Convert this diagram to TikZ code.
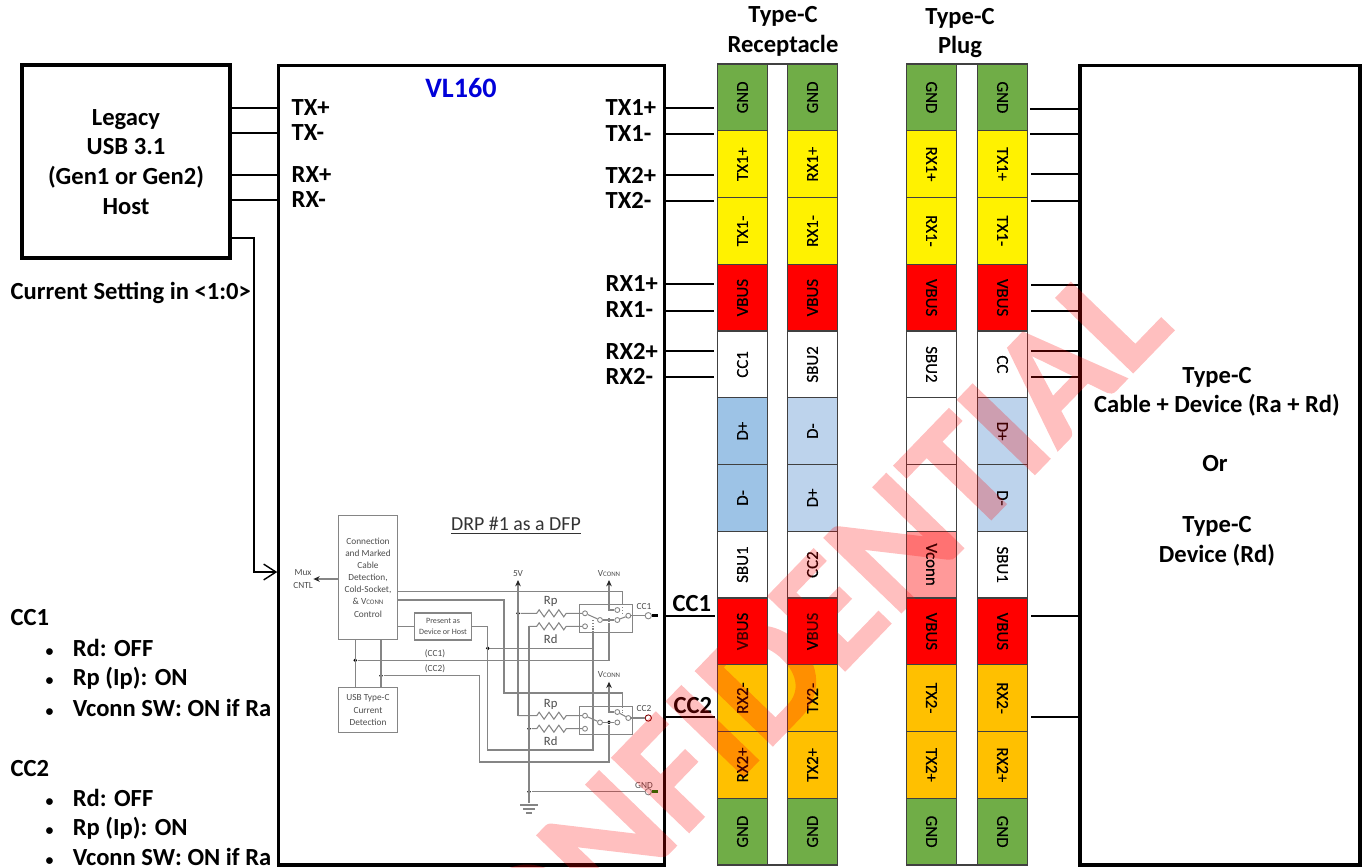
\documentclass[tikz,border=0pt]{standalone}
\usepackage{xcolor}
\usepackage{fontspec}
\setmainfont{Carlito}
\newfontfamily\stampfont[FakeBold=1]{Carlito Bold}
\newfontfamily\pinfont[FakeBold=0.5]{Carlito}
\usepackage{tikz}
\usetikzlibrary{positioning,arrows.meta}
\usetikzlibrary{decorations.pathmorphing}
\definecolor{gndgreen}{HTML}{70AD47}
\definecolor{pinorange}{HTML}{FFC000}
\definecolor{dblue}{HTML}{9DC3E6}
\definecolor{dlight}{HTML}{BDD3EC}
\definecolor{vconnpink}{HTML}{FF9999}
\definecolor{wiregray}{HTML}{858585}
\newcommand{\vconnlbl}{V{\fontsize{3.9}{4}\selectfont CONN}}
\newcommand{\bulletlbl}{{\fontsize{9}{9}\selectfont •}\hspace{11pt}}
\tikzset{
  every picture/.style={line width=0.75pt},
  bigbox/.style={draw,line width=1.8pt,minimum width=0},
  stub/.style={line width=1.1pt},
  lbl/.style={font=\fontsize{14}{17}\selectfont\bfseries,inner sep=0pt,align=center},
  lblleft/.style={lbl,anchor=west},
  cell/.style={draw=black!75,line width=0.7pt,minimum width=1.335cm,minimum height=0.99cm,inner sep=0pt,font=\pinfont\fontsize{9.6}{10}\selectfont},
  cellup/.style={cell,rotate=90},
  celldown/.style={cell,rotate=-90},
  wire/.style={draw=wiregray,line width=0.6pt},
  wirebox/.style={wire,text=black!70,align=center,inner sep=0pt,font=\fontsize{5.3}{6.9}\selectfont},
  tiny/.style={text=black!70,inner sep=0pt,align=center,font=\fontsize{5.3}{6.9}\selectfont},
  rlbl/.style={text=black!70,inner sep=0pt,font=\fontsize{7.2}{8}\selectfont},
  jdot/.style={circle,fill=black,inner sep=0pt,minimum size=2.2pt},
  term/.style={circle,draw=wiregray,fill=white,line width=0.5pt,inner sep=0pt,minimum size=2.8pt},
  tip/.style={-{Stealth[length=3.6pt,width=3.2pt,color=black!85]}},
  zz/.style={decoration={zigzag,amplitude=2pt,segment length=5.6pt}}
}
\begin{document}
\begin{tikzpicture}[x=0.02cm,y=-0.02cm]
\useasboundingbox (0,0) rectangle (1362,867);
% hosts and device
\node[bigbox,minimum width=4.16cm,minimum height=3.86cm] (legacy) at (126,161.5) {};
\node[bigbox,minimum width=7.72cm,minimum height=16cm] (chip) at (471.8,465) {};
\node[bigbox,minimum width=5.6cm,minimum height=16cm] (device) at (1220,465) {};
\node[lbl] (legacytxt) at (126,162) {Legacy\\[0pt]USB 3.1\\(Gen1 or Gen2)\\Host};
\node[lbl,text=blue!85!black,font=\fontsize{16}{18}\selectfont\bfseries] (chipname) at (461,88) {VL160};
\node[lbl] (recv) at (783,31) {Type-C\\Receptacle};
\node[lbl] (plug) at (960,33) {Type-C\\Plug};
\node[lbl] (dev1) at (1217,377) {Type-C};
\node[lbl] (dev2) at (1217,405) {Cable + Device (Ra + Rd)};
\node[lbl] (dev3) at (1215,464) {Or};
\node[lbl] (dev4) at (1217,526) {Type-C};
\node[lbl] (dev5) at (1217,555) {Device (Rd)};
%
\node[lblleft] (txp) at (291,108) {TX+};
\node[lblleft] (txm) at (291,133) {TX-};
\node[lblleft] (rxp) at (291,175) {RX+};
\node[lblleft] (rxm) at (291,200) {RX-};
\draw[stub] (legacy.east |- txp) -- (chip.west |- txp);
\draw[stub] (legacy.east |- txm) -- (chip.west |- txm);
\draw[stub] (legacy.east |- rxp) -- (chip.west |- rxp);
\draw[stub] (legacy.east |- rxm) -- (chip.west |- rxm);
\draw[line width=0.8pt,-{Straight Barb[length=7pt,width=9pt]}] (legacy.east |- 0,238) -- (254,238) -- (254,572) -- (chip.west |- 0,572);
%
\node[lblleft] (cur) at (10,293) {Current Setting in <1:0>};
\node[lblleft] (cc1h) at (10,618) {CC1};
\node[lblleft] (b1) at (45,648) {\bulletlbl Rd: OFF};
\node[lblleft] (b2) at (45,678) {\bulletlbl Rp (Ip): ON};
\node[lblleft] (b3) at (45,708) {\bulletlbl Vconn SW: ON if Ra};
\node[lblleft] (cc2h) at (10,768) {CC2};
\node[lblleft] (b4) at (45,798) {\bulletlbl Rd: OFF};
\node[lblleft] (b5) at (45,828) {\bulletlbl Rp (Ip): ON};
\node[lblleft] (b6) at (45,857) {\bulletlbl Vconn SW: ON if Ra};
% receptacle and plug pins
\draw[draw=black!75,line width=0.7pt] (717.5,64) rectangle (837,865);
\draw[draw=black!75,line width=0.7pt] (907,64) rectangle (1027,865);
\node[cellup,fill=gndgreen] (a1) at (742.5,97.4) {GND};
\node[cellup,fill=yellow] (a2) at (742.5,164.1) {TX1+};
\node[cellup,fill=yellow] (a3) at (742.5,230.9) {TX1-};
\node[cellup,fill=red] (a4) at (742.5,297.6) {VBUS};
\node[cellup,fill=white] (a5) at (742.5,364.4) {CC1};
\node[cellup,fill=dblue] (a6) at (742.5,431.1) {D+};
\node[cellup,fill=dblue] (a7) at (742.5,497.9) {D-};
\node[cellup,fill=white] (a8) at (742.5,564.6) {SBU1};
\node[cellup,fill=red] (a9) at (742.5,631.4) {VBUS};
\node[cellup,fill=pinorange] (a10) at (742.5,698.1) {RX2-};
\node[cellup,fill=pinorange] (a11) at (742.5,764.9) {RX2+};
\node[cellup,fill=gndgreen] (a12) at (742.5,831.6) {GND};
%
\node[cellup,fill=gndgreen] (b1c) at (812.5,97.4) {GND};
\node[cellup,fill=yellow] (b2c) at (812.5,164.1) {RX1+};
\node[cellup,fill=yellow] (b3c) at (812.5,230.9) {RX1-};
\node[cellup,fill=red] (b4c) at (812.5,297.6) {VBUS};
\node[cellup,fill=white] (b5c) at (812.5,364.4) {SBU2};
\node[cellup,fill=dlight] (b6c) at (812.5,431.1) {D-};
\node[cellup,fill=dlight] (b7c) at (812.5,497.9) {D+};
\node[cellup,fill=white] (b8c) at (812.5,564.6) {CC2};
\node[cellup,fill=red] (b9c) at (812.5,631.4) {VBUS};
\node[cellup,fill=pinorange] (b10c) at (812.5,698.1) {TX2-};
\node[cellup,fill=pinorange] (b11c) at (812.5,764.9) {TX2+};
\node[cellup,fill=gndgreen] (b12c) at (812.5,831.6) {GND};
%
\node[celldown,fill=gndgreen] (c1) at (931.5,97.4) {GND};
\node[celldown,fill=yellow] (c2) at (931.5,164.1) {RX1+};
\node[celldown,fill=yellow] (c3) at (931.5,230.9) {RX1-};
\node[celldown,fill=red] (c4) at (931.5,297.6) {VBUS};
\node[celldown,fill=white] (c5) at (931.5,364.4) {SBU2};
\node[celldown,fill=white] (c6) at (931.5,431.1) {};
\node[celldown,fill=white] (c7) at (931.5,497.9) {};
\node[celldown,fill=vconnpink] (c8) at (931.5,564.6) {Vconn};
\node[celldown,fill=red] (c9) at (931.5,631.4) {VBUS};
\node[celldown,fill=pinorange] (c10) at (931.5,698.1) {TX2-};
\node[celldown,fill=pinorange] (c11) at (931.5,764.9) {TX2+};
\node[celldown,fill=gndgreen] (c12) at (931.5,831.6) {GND};
%
\node[celldown,fill=gndgreen] (d1) at (1002.5,97.4) {GND};
\node[celldown,fill=yellow] (d2) at (1002.5,164.1) {TX1+};
\node[celldown,fill=yellow] (d3) at (1002.5,230.9) {TX1-};
\node[celldown,fill=red] (d4) at (1002.5,297.6) {VBUS};
\node[celldown,fill=white] (d5) at (1002.5,364.4) {CC};
\node[celldown,fill=dlight] (d6) at (1002.5,431.1) {D+};
\node[celldown,fill=dlight] (d7) at (1002.5,497.9) {D-};
\node[celldown,fill=white] (d8) at (1002.5,564.6) {SBU1};
\node[celldown,fill=red] (d9) at (1002.5,631.4) {VBUS};
\node[celldown,fill=pinorange] (d10) at (1002.5,698.1) {RX2-};
\node[celldown,fill=pinorange] (d11) at (1002.5,764.9) {RX2+};
\node[celldown,fill=gndgreen] (d12) at (1002.5,831.6) {GND};
% stubs on the VL160 side
\coordinate (p1) at (714,108);
\coordinate (p2) at (714,134);
\coordinate (p3) at (714,175);
\coordinate (p4) at (714,201);
\coordinate (p5) at (714,284);
\coordinate (p6) at (714,311);
\coordinate (p7) at (714,351);
\coordinate (p8) at (714,377);
\coordinate (p9) at (715,616);
\coordinate (p10) at (715,717);
\draw[stub] (chip.east |- p1) -- (p1);
\draw[stub] (chip.east |- p2) -- (p2);
\draw[stub] (chip.east |- p3) -- (p3);
\draw[stub] (chip.east |- p4) -- (p4);
\draw[stub] (chip.east |- p5) -- (p5);
\draw[stub] (chip.east |- p6) -- (p6);
\draw[stub] (chip.east |- p7) -- (p7);
\draw[stub] (chip.east |- p8) -- (p8);
\draw[stub] (chip.east |- p9) -- (p9);
\draw[stub] (chip.east |- p10) -- (p10);
\node[lblleft] (l1) at (605,108) {TX1+};
\node[lblleft] (l2) at (605,134) {TX1-};
\node[lblleft] (l3) at (605,175) {TX2+};
\node[lblleft] (l4) at (605,200) {TX2-};
\node[lblleft] (l5) at (605,284) {RX1+};
\node[lblleft] (l6) at (605,310) {RX1-};
\node[lblleft] (l7) at (605,351) {RX2+};
\node[lblleft] (l8) at (605,376) {RX2-};
\node[lblleft] (l9) at (672,604) {CC1};
\node[lblleft] (l10) at (673,706) {CC2};
% stubs on the device side
\coordinate (q1) at (1030,109);
\coordinate (q2) at (1030,134);
\coordinate (q3) at (1031,174);
\coordinate (q4) at (1031,201);
\coordinate (q5) at (1031,285);
\coordinate (q6) at (1031,311);
\coordinate (q7) at (1031,351);
\coordinate (q8) at (1031,377);
\coordinate (q9) at (1031,616);
\coordinate (q10) at (1031,717);
\draw[stub] (q1) -- (device.west |- q1);
\draw[stub] (q2) -- (device.west |- q2);
\draw[stub] (q3) -- (device.west |- q3);
\draw[stub] (q4) -- (device.west |- q4);
\draw[stub] (q5) -- (device.west |- q5);
\draw[stub] (q6) -- (device.west |- q6);
\draw[stub] (q7) -- (device.west |- q7);
\draw[stub] (q8) -- (device.west |- q8);
\draw[stub] (q9) -- (device.west |- q9);
\draw[stub] (q10) -- (device.west |- q10);
% DRP schematic, blocks
\node[wirebox,draw,minimum width=1.19cm,minimum height=2.47cm] (conn) at (368,577.5) {Connection\\and Marked\\Cable\\Detection,\\Cold-Socket,\\\& \vconnlbl\\Control};
\node[wirebox,draw,minimum width=1.15cm,minimum height=0.54cm,font=\fontsize{4.6}{5.8}\selectfont] (pres) at (443,626.5) {Present as\\Device or Host};
\node[wirebox,draw,minimum width=1.17cm,minimum height=0.91cm] (usb) at (368,710) {USB Type-C\\Current\\Detection};
\node[tiny] (mux) at (303,579) {Mux\\CNTL};
\node[inner sep=0pt,text=black!80,font=\fontsize{11.3}{12}\selectfont] (drp) at (516,526) {\underline{DRP \#1 as a DFP}};
\node[draw=wiregray,line width=0.6pt,minimum width=1.07cm,minimum height=0.56cm,inner sep=0pt] (sw1) at (606,618.3) {};
\node[draw=wiregray,line width=0.6pt,minimum width=1.07cm,minimum height=0.56cm,inner sep=0pt] (sw2) at (606,720.7) {};
\node[tiny] (v5) at (518,574) {5V};
\node[tiny] (vc1) at (609,574) {\vconnlbl};
\node[tiny] (vc2) at (609,674.5) {\vconnlbl};
\node[tiny] (cc1t) at (644,606) {CC1};
\node[tiny] (cc2t) at (644,708) {CC2};
\node[tiny] (gndt) at (644,785) {GND};
\node[tiny] (cc1l) at (435,654) {(CC1)};
\node[tiny] (cc2l) at (435,669) {(CC2)};
\node[rlbl] (rp1) at (550.7,601.7) {Rp};
\node[rlbl] (rd1) at (550.7,639) {Rd};
\node[rlbl] (rp2) at (550.7,704) {Rp};
\node[rlbl] (rd2) at (550.7,740.7) {Rd};
% contacts
\node[term] (s1a) at (585,613.3) {};
\node[term] (s1b) at (585,626.3) {};
\node[term] (s1c) at (600,620) {};
\node[term] (s1d) at (617.3,620) {};
\node[term] (s1e) at (617.3,610) {};
\node[term] (s1f) at (628.3,615.7) {};
\node[term] (s2a) at (585,715.7) {};
\node[term] (s2b) at (585,728.7) {};
\node[term] (s2c) at (600,722.4) {};
\node[term] (s2d) at (617.3,722.4) {};
\node[term] (s2e) at (617.3,712) {};
\node[term] (s2f) at (628.3,718) {};
\node[term,minimum size=3.6pt] (t1) at (648.3,615.7) {};
\node[term,minimum size=3.6pt,draw=red!50!black] (t2) at (648.3,718) {};
\node[term,minimum size=3.6pt] (t3) at (648.3,791.7) {};
\node[jdot] (j5v) at (518,613.3) {};
\node[jdot] (jrd) at (529,728.7) {};
\node[jdot] (jgnd) at (529,791.7) {};
\node[jdot] (jcc1) at (355.3,660.3) {};
\node[jdot] (jcc2) at (381,675.7) {};
\node[jdot] (jpres) at (487.8,648.3) {};
\node[jdot] (js1) at (609,620) {};
\node[jdot] (js2) at (609,722.4) {};
% wires
\draw[wire,tip] (conn.west |- mux) -- (mux.east);
\draw[wire] (conn.east |- 0,626.3) -- (pres.west |- 0,626.3);
\draw[wire] (pres.east |- 0,626.3) -- (487.8,626.3) -- (487.8,750) -- (593,750) -- (593,632.3);
\draw[wire] (jpres) -- (593,648.3);
\draw[wire] (conn.east |- 0,591.7) -- (622.7,591.7) -- (sw1.north -| 622.7,0);
\draw[wire] (conn.east |- 0,600) -- (504,600) -- (504,693) -- (622.7,693) -- (sw2.north -| 622.7,0);
\draw[wire] (355.3,639) -- (355.3,687.3);
\draw[wire] (381,639) -- (381,687.3);
\draw[wire] (jcc1) -- (609,660.3) -- (js1);
\draw[wire] (jcc2) -- (479.3,675.7) -- (479.3,762) -- (609,762) -- (js2);
\draw[wire] (593,735) -- (593,750);
\draw[wire,tip] (518,715.7) -- (518,580);
\draw[wire] (518,715.7) -- (536.7,715.7) decorate[zz] {-- (566.7,715.7)} -- (s2a);
\draw[wire] (j5v) -- (536.7,613.3) decorate[zz] {-- (566.7,613.3)} -- (s1a);
\draw[wire] (529,626.3) -- (536.7,626.3) decorate[zz] {-- (566.7,626.3)} -- (s1b);
\draw[wire] (jrd) -- (536.7,728.7) decorate[zz] {-- (566.7,728.7)} -- (s2b);
\draw[wire] (529,626.3) -- (529,803);
\draw[wire] (jgnd) -- (t3);
\draw[wire] (520,805) -- (538,805);
\draw[wire] (523,809) -- (535,809);
\draw[wire] (526,813) -- (532,813);
\draw[wire,tip] (s1e) -- (609,610) -- (609,580);
\draw[wire,tip] (s2e) -- (609,712) -- (609,681.7);
\draw[wire] (s1a) -- (s1c);
\draw[wire] (s1c) -- (s1d);
\draw[wire] (s1d) -- (s1f);
\draw[wire] (s1f) -- (t1);
\draw[wire] (s2a) -- (s2c);
\draw[wire] (s2c) -- (s2d);
\draw[wire] (s2e) -- (s2f);
\draw[wire] (s2f) -- (t2);
\draw[wire,densely dotted] (593,632.3) -- (593,619);
\draw[wire,densely dotted] (622.7,604.3) -- (622.7,613);
\draw[wire,densely dotted] (593,735) -- (593,721);
\draw[wire,densely dotted] (622.7,706.7) -- (622.7,715);
\draw[line width=1.4pt] (t1) -- (657.7,615.7);
\draw[line width=1.4pt,draw=green!50!black] (t3) -- (657.7,791.7);
% stamp
\begin{scope}[transparency group,opacity=0.25]
\node[text=red,rotate=46,anchor=base east,inner sep=0pt,font=\stampfont\fontsize{94}{94}\selectfont] (stamp) at (1176,328) {CONFIDENTIAL};
\end{scope}
\end{tikzpicture}
\end{document}
